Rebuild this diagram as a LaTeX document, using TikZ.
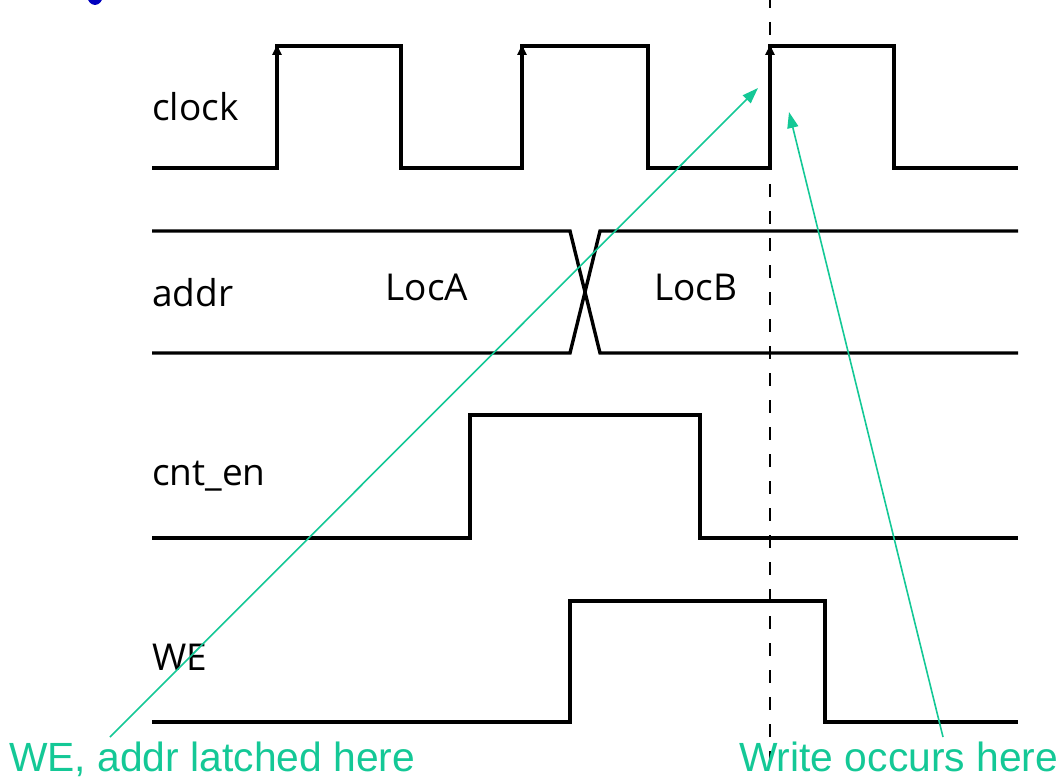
\documentclass[tikz,border=0pt]{standalone}
\usepackage{fontspec}
\setmainfont{Open Sans}
\newfontfamily\arialf{Liberation Sans}
\usetikzlibrary{arrows.meta}
\definecolor{anno}{RGB}{20,200,150}
\tikzset{
  wave/.style={line width=3.4pt, line join=miter, line cap=butt},
  edgearrow/.style={line width=3.4pt, -{Triangle[length=10pt,width=9pt]}},
  lbl/.style={anchor=base west, inner sep=0pt, font=\fontsize{37}{43}\selectfont},
  buslbl/.style={anchor=base, inner sep=0pt, font=\fontsize{37}{43}\selectfont},
  annot/.style={anchor=base west, inner sep=0pt, text=anno, font=\arialf\fontsize{40.8}{46}\selectfont},
  annoarrow/.style={draw=anno, line width=1.6pt, -{Triangle[length=16pt,width=11pt]}},
  marker/.style={line width=1.5pt, dash pattern=on 13pt off 14pt}
}
\begin{document}
\begin{tikzpicture}[x=1pt,y=-1pt]
\useasboundingbox (0,0) rectangle (1060,778);
% blue fragment of cut-off title
\begin{scope}
\clip (0,0) rectangle (1060,6);
\fill[blue!75!black] (95,-5) ellipse (8 and 10);
\end{scope}
% labels
\node[lbl] (lclock) at (152,121) {clock};
\node[lbl] (laddr) at (152,306) {addr};
\node[buslbl] (locA) at (427,300) {LocA};
\node[buslbl] (locB) at (696,300) {LocB};
\node[lbl] (lcnt) at (152,485) {cnt\_en};
\node[lbl] (lwe) at (152,670) {WE};
% dashed marker
\draw[marker] (770,-5) -- (770,790);
% clock
\draw[wave] (152,168) -- (277,168) -- (277,46) -- (401,46) -- (401,168) -- (522,168) -- (522,46) -- (648,46) -- (648,168) -- (770,168) -- (770,46) -- (894,46) -- (894,168) -- (1018,168);
\draw[edgearrow] (277,70) -- (277,45);
\draw[edgearrow] (522,70) -- (522,45);
\draw[edgearrow] (770,70) -- (770,45);
% addr bus
\draw[wave] (152,231) -- (570,231) -- (600,353) -- (1018,353);
\draw[wave] (152,353) -- (570,353) -- (600,231) -- (1018,231);
% cnt_en
\draw[wave] (152,538) -- (470,538) -- (470,415) -- (700,415) -- (700,538) -- (1018,538);
% WE
\draw[wave] (152,722) -- (570,722) -- (570,601) -- (825,601) -- (825,722) -- (1018,722);
% annotations
\node[annot] (latch) at (9,771) {WE, addr latched here};
\node[annot] (write) at (739,771) {Write occurs here};
\coordinate (latchfrom) at (110,737);
\coordinate (latchto) at (758,88);
\coordinate (writefrom) at (943,737);
\coordinate (writeto) at (789,112);
\draw[annoarrow] (latchfrom) -- (latchto);
\draw[annoarrow] (writefrom) -- (writeto);
\end{tikzpicture}
\end{document}
